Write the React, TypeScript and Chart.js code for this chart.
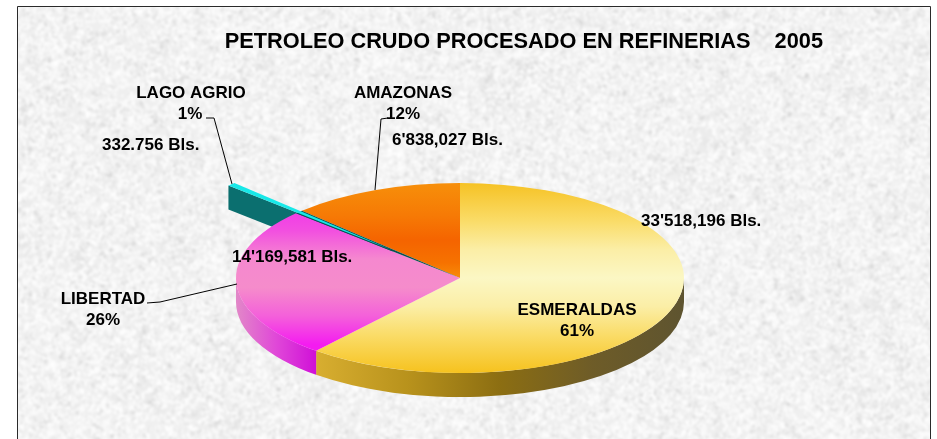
import React, { useEffect, useRef } from "react";
import { Chart, registerables } from "chart.js";

Chart.register(...registerables);

const titleText = "PETROLEO CRUDO PROCESADO EN REFINERIAS    2005";
const sliceNames = ["AMAZONAS", "ESMERALDAS", "LIBERTAD", "LAGO AGRIO"];
const barrels = [6838027, 33518196, 14169581, 332756];
const percentLabels = ["12%", "61%", "26%", "1%"];
const barrelLabels = ["6'838,027 Bls.", "33'518,196 Bls.", "14'169,581 Bls.", "332.756 Bls."];
const explodeIndex = 3;
const explodeDistance = 94;

const W = 937;
const H = 439;
const CY = 278;
const RX = 224;
const RY = 95;
const K = RY / RX;
const DEPTH = 24;
const LABEL_FONT = "bold 17px 'Liberation Sans', Arial, sans-serif";
const EXPLODED_TOP = "#18e8e8";
const CUT_FACE = "#0b6f6f";

const topStops: [number, string][][] = [
  [[0, "#f78f0a"], [0.17, "#f67a05"], [0.3, "#f56400"], [0.42, "#f67200"], [0.5, "#f88c08"], [1, "#f88c08"]],
  [[0, "#f6c224"], [0.2, "#fadc68"], [0.35, "#fbeea6"], [0.5, "#fbf7c4"], [0.65, "#fbeea6"], [0.8, "#fadc68"], [1, "#f6c21e"]],
  [[0, "#f020f0"], [0.25, "#f24fe0"], [0.4, "#f588cf"], [0.55, "#f58ccb"], [0.7, "#f460da"], [0.85, "#f41cf0"], [1, "#f41cf0"]],
  [[0, "#0a4f4f"], [1, "#0a4f4f"]],
];
const wallStops: [number, string][][] = [
  [[0, "#f56a00"], [1, "#b05000"]],
  [[0, "#d8ae30"], [0.25, "#b8921c"], [0.5, "#8c6e12"], [0.75, "#6e5c28"], [1, "#5e5430"]],
  [[0, "#e288c8"], [0.5, "#e048d8"], [1, "#d010d8"]],
  [[0, CUT_FACE], [1, CUT_FACE]],
];

function makeTexture(): HTMLCanvasElement {
  const src = document.createElement("canvas");
  src.width = W;
  src.height = H;
  const s = src.getContext("2d")!;
  s.fillStyle = "#efefef";
  s.fillRect(0, 0, W, H);
  let seed = 12345;
  const next = () => {
    seed = (seed * 1664525 + 1013904223) % 4294967296;
    return seed / 4294967296;
  };
  for (let i = 0; i < 700; i++) {
    s.fillStyle = next() < 0.5 ? "rgba(205,205,205,0.08)" : "rgba(255,255,255,0.1)";
    s.beginPath();
    s.ellipse(next() * W, next() * H, 8 + next() * 14, 5 + next() * 9, next() * Math.PI, 0, Math.PI * 2);
    s.fill();
  }
  for (let i = 0; i < 42000; i++) {
    const dark = next() < 0.2;
    s.fillStyle = dark ? "rgba(190,190,190,0.2)" : "rgba(255,255,255,0.5)";
    s.beginPath();
    s.ellipse(next() * W, next() * H, 1 + next() * 2.4, 0.8 + next() * 1.4, next() * Math.PI, 0, Math.PI * 2);
    s.fill();
  }
  const out = document.createElement("canvas");
  out.width = W;
  out.height = H;
  const o = out.getContext("2d")!;
  o.filter = "blur(1px)";
  o.drawImage(src, 0, 0);
  return out;
}

function text(ctx: CanvasRenderingContext2D, s: string, x: number, y: number, align: CanvasTextAlign) {
  ctx.textAlign = align;
  ctx.fillText(s, x, y);
}

function line(ctx: CanvasRenderingContext2D, pts: number[][]) {
  ctx.beginPath();
  pts.forEach((p, i) => (i ? ctx.lineTo(p[0], p[1]) : ctx.moveTo(p[0], p[1])));
  ctx.stroke();
}

const pie3d = (texture: HTMLCanvasElement) => ({
  id: "pie3d",
  beforeDraw(chart: any) {
    const ctx = chart.ctx;
    ctx.save();
    ctx.fillStyle = "#ffffff";
    ctx.fillRect(0, 0, W, H);
    ctx.drawImage(texture, 0, 0, 913, 433, 17, 6, 913, 433);
    ctx.strokeStyle = "#2a2a2a";
    ctx.lineWidth = 1;
    line(ctx, [[17.5, H], [17.5, 6.5], [930.5, 6.5], [930.5, H]]);
    ctx.restore();
  },
  beforeDatasetsDraw(chart: any) {
    const ctx = chart.ctx;
    const arcs = chart.getDatasetMeta(0).data;
    const cx = arcs[0].x;
    const cy = arcs[0].y;
    const r = arcs[0].outerRadius;
    const ry = r * K;
    ctx.save();
    const lago = arcs[explodeIndex];
    const mid = (lago.startAngle + lago.endAngle) / 2;
    const ax = cx + Math.cos(mid) * explodeDistance;
    const ay = cy + Math.sin(mid) * explodeDistance * K;
    const px = ax + Math.cos(lago.startAngle) * r;
    const py = ay + Math.sin(lago.startAngle) * r * K;
    ctx.fillStyle = CUT_FACE;
    ctx.beginPath();
    ctx.moveTo(px, py);
    ctx.lineTo(px, py + DEPTH);
    ctx.lineTo(ax, ay + DEPTH);
    ctx.lineTo(ax, ay);
    ctx.closePath();
    ctx.fill();
    arcs.forEach((arc: any, i: number) => {
      const a0 = Math.max(arc.startAngle, 0);
      const a1 = Math.min(arc.endAngle, Math.PI);
      if (a1 <= a0) return;
      const x0 = cx + Math.cos(a1) * r;
      const x1 = cx + Math.cos(a0) * r;
      const g = ctx.createLinearGradient(x0, 0, x1, 0);
      wallStops[i].forEach(([p, c]) => g.addColorStop(p, c));
      ctx.fillStyle = g;
      ctx.beginPath();
      ctx.ellipse(cx, cy, r, ry, 0, a0, a1);
      ctx.ellipse(cx, cy + DEPTH, r, ry, 0, a1, a0, true);
      ctx.closePath();
      ctx.fill();
    });
    ctx.restore();
    ctx.save();
    ctx.translate(cx, cy);
    ctx.scale(1, K);
    ctx.translate(-cx, -cy);
  },
  afterDatasetsDraw(chart: any) {
    const ctx = chart.ctx;
    // exploded slice: same arc element, pulled out along its own bisector
    const lago = chart.getDatasetMeta(0).data[explodeIndex];
    const mid = (lago.startAngle + lago.endAngle) / 2;
    const saved = lago.options;
    const copy = Object.create(saved);
    copy.backgroundColor = EXPLODED_TOP;
    lago.options = copy;
    ctx.save();
    ctx.translate(Math.cos(mid) * explodeDistance, Math.sin(mid) * explodeDistance);
    lago.draw(ctx);
    ctx.restore();
    lago.options = saved;
    ctx.restore();
    ctx.save();
    ctx.fillStyle = "#000000";
    ctx.font = LABEL_FONT;
    ctx.textBaseline = "alphabetic";
    text(ctx, sliceNames[3], 191, 98, "center");
    text(ctx, percentLabels[3], 190, 119, "center");
    text(ctx, barrelLabels[3], 102, 150, "left");
    text(ctx, sliceNames[0], 403, 98, "center");
    text(ctx, percentLabels[0], 403, 119, "center");
    text(ctx, barrelLabels[0], 392, 145, "left");
    text(ctx, barrelLabels[1], 641, 226, "left");
    text(ctx, barrelLabels[2], 232, 262, "left");
    text(ctx, sliceNames[2], 103, 304, "center");
    text(ctx, percentLabels[2], 103, 325, "center");
    text(ctx, sliceNames[1], 577, 315, "center");
    text(ctx, percentLabels[1], 577, 336, "center");
    ctx.strokeStyle = "#000000";
    ctx.lineWidth = 1;
    line(ctx, [[206, 118], [214, 118], [232, 184]]);
    line(ctx, [[388, 118], [381, 119], [375, 190]]);
    line(ctx, [[147, 303], [160, 302], [237, 284]]);
    ctx.restore();
  },
});

export default function App() {
  const ref = useRef<HTMLCanvasElement>(null);
  useEffect(() => {
    const canvas = ref.current!;
    const total = barrels.reduce((a, b) => a + b, 0);
    const grad = (stops: [number, string][]) => {
      const g = canvas.getContext("2d")!.createLinearGradient(0, CY - RX, 0, CY + RX);
      stops.forEach(([p, c]) => g.addColorStop(p, c));
      return g;
    };
    const chart = new Chart(canvas, {
      type: "pie",
      data: {
        labels: sliceNames,
        datasets: [
          {
            data: barrels,
            backgroundColor: topStops.map((s) => grad(s)),
            borderWidth: 0,
            clip: false,
          } as any,
        ],
      },
      options: {
        responsive: false,
        animation: false,
        radius: RX,
        rotation: (-360 * barrels[0]) / total,
        layout: { padding: { left: 97, right: 114, top: 0, bottom: 0 } },
        events: [],
        plugins: {
          legend: { display: false },
          tooltip: { enabled: false },
          title: {
            display: true,
            text: titleText,
            align: "end",
            color: "#000000",
            font: { family: "'Liberation Sans', Arial, sans-serif", size: 21.75, weight: "bold", lineHeight: 1.2 },
            padding: { top: 29, bottom: 62 },
          },
        },
      } as any,
      plugins: [pie3d(makeTexture())],
    });
    return () => chart.destroy();
  }, []);
  return (
    <div style={{ position: "fixed", left: 0, top: 0, width: W, height: H, background: "#fff", overflow: "hidden" }}>
      <canvas ref={ref} width={W} height={H} style={{ display: "block", width: W, height: H }} />
    </div>
  );
}
